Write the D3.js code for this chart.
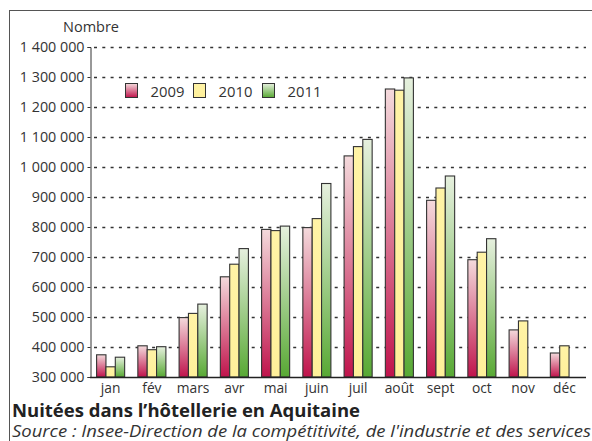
<!DOCTYPE html>
<html>
<head>
<meta charset="utf-8">
<script src="https://cdn.jsdelivr.net/npm/d3@7/dist/d3.min.js"></script>
<style>
  body { margin: 0; background: #fff; }
  svg { display: block; font-family: "Open Sans", sans-serif; }
</style>
</head>
<body>
<div id="a"></div>
<script>
// data
var months = ["jan", "fév", "mars", "avr", "mai", "juin", "juil", "août", "sept", "oct", "nov", "déc"],
	years  = ["2009", "2010", "2011"],
	v2009  = [374000, 404000, 498000, 634000, 792000, 798000, 1037000, 1260000, 889000, 691000, 457000, 380000],
	v2010  = [334000, 391000, 512000, 676000, 788000, 828000, 1068000, 1256000, 930000, 716000, 487000, 404000],
	v2011  = [366000, 401000, 543000, 728000, 803000, 945000, 1092000, 1297000, 970000, 761000, null, null],
	yTicks = [300000, 400000, 500000, 600000, 700000, 800000, 900000, 1000000, 1100000, 1200000, 1300000, 1400000];

var w = 592, h = 441;

var svg = d3.select("#a").append("svg")
	.attr("width", w)
	.attr("height", h);

// gradients for the bars
var defs = svg.append("defs");
var grads = [
	["g2009", "#f4dadc", "#c0144c"],
	["g2010", "#fff3a6", "#fff09a"],
	["g2011", "#e6f0de", "#58a934"]
];
grads.forEach(function (g) {
	var lg = defs.append("linearGradient").attr("id", g[0])
		.attr("x1", 0).attr("y1", 0).attr("x2", 0).attr("y2", 1);
	lg.append("stop").attr("offset", "0%").attr("stop-color", g[1]);
	lg.append("stop").attr("offset", "100%").attr("stop-color", g[2]);
});

// frame
svg.append("rect")
	.attr("x", 9.5).attr("y", 10.5)
	.attr("width", 700).attr("height", 600)
	.attr("fill", "none")
	.attr("stroke", "#555")
	.attr("stroke-width", 1);

var y = d3.scaleLinear().domain([300000, 1400000]).range([377, 47]);

var x0 = d3.scaleBand().domain(months).range([90, 585])
	.paddingInner(0.32).paddingOuter(0.16);
var x1 = d3.scaleBand().domain(years).range([0, x0.bandwidth()]);

var fmt = function (d) { return d3.format(",")(d).replace(/,/g, " "); };

// gridlines
svg.append("g").selectAll("line")
	.data(yTicks.slice(1))
	.enter().append("line")
	.attr("x1", 94).attr("x2", 586)
	.attr("y1", function (d) { return Math.round(y(d)) + 0.5; })
	.attr("y2", function (d) { return Math.round(y(d)) + 0.5; })
	.attr("stroke", "#333")
	.attr("stroke-width", 1.3)
	.attr("stroke-dasharray", "3,5.3");

// y axis
var yAxis = svg.append("g")
	.attr("transform", "translate(90.5,0)")
	.call(d3.axisLeft(y).tickValues(yTicks).tickFormat(fmt).tickSize(3).tickPadding(3));
yAxis.select(".domain").attr("stroke", "#333");
yAxis.selectAll(".tick line").attr("stroke", "#333");
yAxis.selectAll("text")
	.attr("font-size", 14.3)
	.attr("fill", "#333")
	.attr("font-family", "Open Sans, sans-serif");

svg.append("text")
	.attr("x", 63).attr("y", 32)
	.attr("font-size", 14.5)
	.attr("fill", "#333")
	.text("Nombre");

// bars
var series = [v2009, v2010, v2011];
var groups = svg.append("g").selectAll("g")
	.data(months)
	.enter().append("g")
	.attr("transform", function (d) { return "translate(" + x0(d) + ",0)"; });

groups.selectAll("rect")
	.data(function (d, i) {
		return years.map(function (yr, k) { return { year: yr, value: series[k][i] }; })
			.filter(function (e) { return e.value != null; });
	})
	.enter().append("rect")
	.attr("x", function (d) { return x1(d.year); })
	.attr("y", function (d) { return y(d.value); })
	.attr("width", x1.bandwidth())
	.attr("height", function (d) { return y(300000) - y(d.value); })
	.attr("fill", function (d) { return "url(#g" + d.year + ")"; })
	.attr("stroke", "#333")
	.attr("stroke-width", 1.1);

// x axis
svg.append("line")
	.attr("x1", 90).attr("x2", 586)
	.attr("y1", 377.5).attr("y2", 377.5)
	.attr("stroke", "#222")
	.attr("stroke-width", 1.3);

svg.append("g").selectAll("text")
	.data(months)
	.enter().append("text")
	.attr("x", function (d) { return x0(d) + x0.bandwidth() / 2; })
	.attr("y", 393)
	.attr("text-anchor", "middle")
	.attr("font-size", 13.8)
	.attr("fill", "#333")
	.text(function (d) { return d; });

// legend
var legX = [125.5, 193.5, 262.5];
var leg = svg.append("g").selectAll("g")
	.data(years)
	.enter().append("g")
	.attr("transform", function (d, i) { return "translate(" + legX[i] + ",83.5)"; });
leg.append("rect")
	.attr("width", 12).attr("height", 14)
	.attr("fill", function (d) { return "url(#g" + d + ")"; })
	.attr("stroke", "#333");
leg.append("text")
	.attr("x", 25).attr("y", 13)
	.attr("font-size", 14.8)
	.attr("fill", "#333")
	.text(function (d) { return d; });

// title and source
svg.append("text")
	.attr("x", 12).attr("y", 417)
	.attr("font-size", 17.5)
	.attr("font-weight", "bold")
	.attr("fill", "#222")
	.attr("textLength", 348)
	.attr("lengthAdjust", "spacingAndGlyphs")
	.text("Nuitées dans l’hôtellerie en Aquitaine");

svg.append("text")
	.attr("x", 12).attr("y", 437)
	.attr("font-size", 15.5)
	.attr("font-style", "italic")
	.attr("fill", "#333")
	.attr("textLength", 579)
	.attr("lengthAdjust", "spacingAndGlyphs")
	.text("Source : Insee-Direction de la compétitivité, de l'industrie et des services");
</script>
</body>
</html>
